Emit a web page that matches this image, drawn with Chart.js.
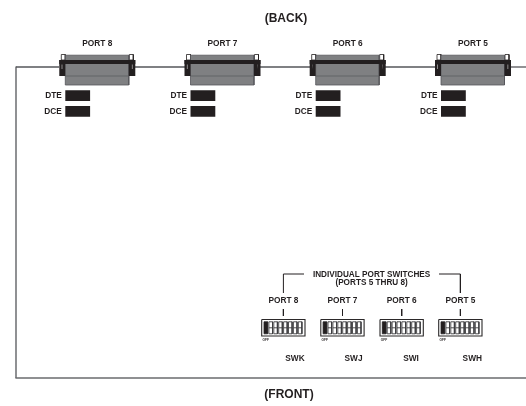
<!DOCTYPE html>
<html>
<head>
<meta charset="utf-8">
<script src="https://cdn.jsdelivr.net/npm/chart.js@4"></script>
<style>
html, body { margin: 0; padding: 0; background: #fff; }
canvas { display: block; }
</style>
</head>
<body>
<canvas id="diagram" width="526" height="406"></canvas>
<script>
// rear connectors and front switches, in picture units
var portLabels = ['PORT 8', 'PORT 7', 'PORT 6', 'PORT 5'];
var connectorX = [97.3, 222.5, 347.7, 473];
var switchX = [283.4, 342.5, 401.7, 460.4];
var switchNames = ['SWK', 'SWJ', 'SWI', 'SWH'];
var switchNameX = [295, 353.5, 411, 472.3];
var switchCells = [0, 1, 2, 3, 4, 5, 6, 7];
var dark = '#231f20';
var gray = '#7f8082';

var ctx = document.getElementById('diagram').getContext('2d');
var datasets = [];
var texts = [];

function path(points, color, width) {
    datasets.push({
        data: points.map(function (p) { return { x: p[0], y: p[1] }; }),
        showLine: true,
        borderColor: color,
        borderWidth: width,
        pointRadius: 0,
        fill: false,
        tension: 0,
        clip: false
    });
}

function box(x0, y0, x1, y1, fillColor, edge, width) {
    datasets.push({
        data: [{ x: x0, y: y0 }, { x: x1, y: y0 }, { x: x1, y: y1 }, { x: x0, y: y1 }, { x: x0, y: y0 }],
        showLine: true,
        backgroundColor: fillColor,
        borderColor: edge || fillColor,
        borderWidth: width === undefined ? 0 : width,
        pointRadius: 0,
        fill: 'shape',
        tension: 0,
        clip: false
    });
}

function label(text, x, y, size, align) {
    texts.push({ text: text, x: x, y: y, size: size, align: align || 'center' });
}

// outline of the box
path([[16, 67], [59, 67]], '#55565a', 1.3);
path([[16, 66.4], [16, 378]], '#55565a', 1.3);
path([[15.4, 378], [526, 378]], '#6a6b6e', 1.6);
connectorX.forEach(function (cx, i) {
    var next = i < 3 ? connectorX[i + 1] - 37 : 526;
    path([[cx + 37, 67], [next, 67]], '#55565a', 1.3);

    box(cx - 36, 54.5, cx - 32, 60, '#fff', dark, 0.8);
    box(cx + 32, 54.5, cx + 36, 60, '#fff', dark, 0.8);
    box(cx - 32, 55.2, cx + 31.5, 85, gray, '#55565a', 0.8);
    path([[cx - 32, 76], [cx + 31.5, 76]], '#5c5d60', 0.8);
    box(cx - 38, 60, cx - 32, 76, dark);
    box(cx + 31.5, 60, cx + 38, 76, dark);
    box(cx - 38, 60, cx + 38, 64, dark);
    box(cx - 35.6, 64.5, cx - 35, 69, '#cfcfcf');
    box(cx + 34.6, 64.5, cx + 35.2, 69, '#cfcfcf');

    box(cx - 32, 90.3, cx - 7.2, 101, dark);
    box(cx - 32, 106, cx - 7.2, 116.7, dark);
    label('DTE', cx - 35.5, 95.3, 8.3, 'right');
    label('DCE', cx - 35.5, 111.3, 8.3, 'right');
    label(portLabels[i], cx, 44, 8.3);
});

// switch group
switchX.forEach(function (sx, i) {
    var left = sx - 21.7;
    path([[sx, 309], [sx, 316]], dark, 1);
    box(left, 319.5, left + 43.3, 336, '#fff', '#2b2829', 1.1);
    switchCells.forEach(function (c) {
        var x = left + 2.3 + c * 4.9;
        box(x, 321.8, x + 3.6, 333.8, '#fff', '#3c3c3e', 0.9);
        path([[x, 327.8], [x + 3.6, 327.8]], '#3c3c3e', 0.9);
        if (c === 0) box(x, 321.8, x + 3.6, 333.8, dark);
    });
    label(portLabels[i], sx, 300.8, 8.3);
    label('OFF', left + 4, 340.4, 3.2);
    label(switchNames[i], switchNameX[i], 359, 8.3);
});
path([[283.4, 293], [283.4, 274], [304, 274]], dark, 1);
path([[439, 274], [460.4, 274], [460.4, 293]], dark, 1);

label('(BACK)', 286, 18.4, 12);
label('(FRONT)', 289, 395, 12);
label('INDIVIDUAL PORT SWITCHES', 371.6, 275, 8.2);
label('(PORTS 5 THRU 8)', 371.6, 283, 8.2);

// chart.js paints the first dataset last, so flip to keep painter's order
datasets.reverse();

var textPlugin = {
    id: 'diagramText',
    afterDatasetsDraw: function (chart) {
        var c = chart.ctx;
        c.save();
        c.fillStyle = dark;
        c.textBaseline = 'middle';
        texts.forEach(function (t) {
            c.font = 'bold ' + t.size + 'px "Liberation Sans"';
            c.textAlign = t.align;
            c.fillText(t.text, chart.scales.x.getPixelForValue(t.x), chart.scales.y.getPixelForValue(t.y));
        });
        c.restore();
    }
};

var myChart = new Chart(ctx, {
    type: 'scatter',
    data: { datasets: datasets },
    options: {
        responsive: false,
        animation: false,
        layout: { padding: 0 },
        plugins: { legend: { display: false }, tooltip: { enabled: false } },
        scales: {
            x: { type: 'linear', min: 0, max: 526, display: false },
            y: { type: 'linear', min: 0, max: 406, reverse: true, display: false }
        }
    },
    plugins: [textPlugin]
});
</script>
</body>
</html>
